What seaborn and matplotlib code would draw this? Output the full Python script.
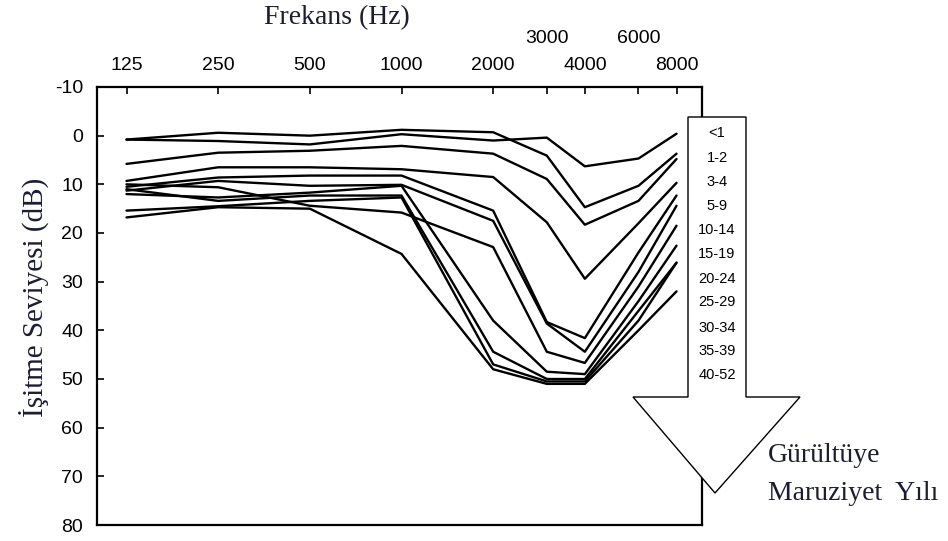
import matplotlib
matplotlib.use("Agg")
import matplotlib.pyplot as plt
from matplotlib.patches import Polygon
from matplotlib.ticker import NullLocator
import seaborn as sns
import pandas as pd

# ---------------- data ----------------
freqs = [125, 250, 500, 1000, 2000, 3000, 4000, 6000, 8000]
freq_labels = ["125", "250", "500", "1000", "2000", "3000", "4000", "6000", "8000"]
groups = ["<1", "1-2", "3-4", "5-9", "10-14", "15-19", "20-24", "25-29", "30-34", "35-39", "40-52"]

g_lt1 = [0.8, 1.1, 1.8, -0.3, 1.0, 0.4, 6.3, 4.7, -0.4]
g_1_2 = [0.8, -0.6, 0.0, -1.2, -0.7, 4.1, 14.7, 10.3, 3.7]
g_3_4 = [5.8, 3.5, 3.1, 2.1, 3.7, 8.9, 18.3, 13.4, 4.8]
g_5_9 = [9.3, 6.5, 6.5, 6.9, 8.5, 17.8, 29.4, 18.0, 9.7]
g_10_14 = [10.5, 8.6, 8.2, 8.2, 15.4, 38.3, 41.6, 24.0, 12.3]
g_15_19 = [11.3, 9.3, 10.3, 10.1, 17.5, 38.6, 44.4, 28.0, 14.4]
g_20_24 = [10.0, 10.6, 14.4, 15.8, 22.9, 44.4, 46.7, 31.0, 18.5]
g_25_29 = [12.0, 12.7, 11.7, 10.3, 38.0, 48.5, 49.0, 34.0, 22.6]
g_30_34 = [11.0, 13.4, 12.3, 12.3, 44.4, 50.0, 50.0, 36.0, 26.1]
g_35_39 = [15.4, 14.5, 13.4, 12.7, 47.0, 50.5, 50.5, 38.0, 26.1]
g_40_52 = [16.8, 14.7, 15.0, 24.3, 48.0, 51.0, 51.0, 40.0, 32.0]

series = [g_lt1, g_1_2, g_3_4, g_5_9, g_10_14, g_15_19, g_20_24,
          g_25_29, g_30_34, g_35_39, g_40_52]

yticks = [-10, 0, 10, 20, 30, 40, 50, 60, 70, 80]

rows = []
for g, vals in zip(groups, series):
    for f, v in zip(freqs, vals):
        rows.append({"freq": f, "db": v, "group": g})
df = pd.DataFrame(rows)

# ---------------- style ----------------
sns.set_theme(style="ticks")
plt.rcParams["font.family"] = ["Liberation Sans", "DejaVu Sans"]

W, H = 948, 541
fig = plt.figure(figsize=(W / 100, H / 100), dpi=100)
ax = fig.add_axes([97 / W, 16 / H, 605 / W, 438 / H])

sns.lineplot(data=df, x="freq", y="db", hue="group", hue_order=groups,
             palette=["black"] * len(groups), legend=False, errorbar=None,
             linewidth=1.7, ax=ax)

ax.set_xscale("log")
ax.set_xlim(100, 9700)
ax.set_ylim(80, -10)
ax.set_yticks(yticks)
ax.set_yticklabels([str(t) for t in yticks])
ax.xaxis.tick_top()
ax.set_xticks(freqs)
ax.set_xticklabels(freq_labels)
ax.xaxis.set_minor_locator(NullLocator())
ax.set_xlabel("")
ax.set_ylabel("")

ax.tick_params(axis="both", direction="in", length=5, width=1.2,
               colors="black", labelsize=14)
ax.tick_params(axis="y", pad=10)
ax.tick_params(axis="x", pad=9)
for t, lab in zip(ax.xaxis.get_major_ticks(), freq_labels):
    if lab in ("3000", "6000"):
        t.set_pad(29)

for s in ax.spines.values():
    s.set_linewidth(1.6)
    s.set_color("black")

serif = ["Liberation Serif", "DejaVu Serif"]
tcol = "#1c1c33"
fig.text(337 / W, 1 - 18 / H, "Frekans (Hz)", ha="center", va="center",
         family=serif, fontsize=20, color=tcol)
fig.text(34 / W, 1 - 297 / H, "İşitme Seviyesi (dB)", ha="center", va="center",
         rotation=90, family=serif, fontsize=21, color=tcol)

# arrow with the exposure-year labels
pts = [(688, 117), (746, 117), (746, 397), (800, 397), (715, 493),
       (633, 397), (688, 397)]
arrow = Polygon([(x / W, 1 - y / H) for x, y in pts], closed=True,
                transform=fig.transFigure, facecolor="white",
                edgecolor="black", linewidth=1.0, zorder=5)
fig.add_artist(arrow)

label_y = [133, 158, 182, 206, 230, 254, 279, 302, 328, 351, 375]
for g, y in zip(groups, label_y):
    fig.text(717 / W, 1 - y / H, g, ha="center", va="center",
             fontsize=10.5, color="black", zorder=6)

fig.text(768 / W, 1 - 455 / H, "Gürültüye", ha="left", va="center",
         family=serif, fontsize=20, color=tcol, zorder=6)
fig.text(768 / W, 1 - 493 / H, "Maruziyet  Yılı", ha="left", va="center",
         family=serif, fontsize=20, color=tcol, zorder=6)

fig.savefig("out.png", dpi=100)
